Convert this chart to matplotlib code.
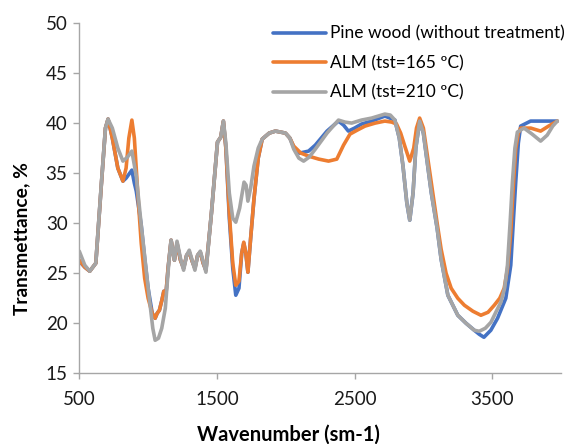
import matplotlib
matplotlib.use("Agg")
import matplotlib.pyplot as plt

# FTIR spectra (wavenumber, transmittance %)
pine_x = [500, 540, 576, 620, 661, 690, 709, 740, 780, 817, 840, 882, 900, 914, 950, 975,
          1000, 1030, 1051, 1066, 1082, 1100, 1114, 1130, 1145, 1167, 1191, 1210, 1235, 1258,
          1280, 1299, 1320, 1340, 1360, 1379, 1400, 1420, 1460, 1504, 1528, 1547, 1565, 1590,
          1615, 1637, 1660, 1680, 1695, 1710, 1725, 1745, 1769, 1800, 1829, 1880, 1925, 1998,
          2030, 2058, 2100, 2166, 2215, 2300, 2383, 2420, 2455, 2500, 2550, 2624, 2720, 2793,
          2825, 2852, 2880, 2901, 2925, 2945, 2973, 3000, 3057, 3100, 3129, 3178, 3250, 3310,
          3370, 3406, 3440, 3490, 3539, 3599, 3635, 3655, 3671, 3690, 3707, 3779, 3880, 3973]
pine_y = [26.2, 25.6, 25.2, 26.0, 34.0, 39.5, 40.4, 38.5, 35.5, 34.2, 34.5, 35.3, 34.0, 33.2, 29.8, 26.5,
          23.5, 21.0, 20.5, 21.0, 21.3, 22.3, 23.2, 23.0, 25.5, 28.3, 26.3, 28.0, 26.3, 25.5,
          26.8, 27.1, 26.2, 25.5, 26.8, 27.1, 26.0, 25.3, 31.0, 38.1, 38.6, 40.2, 37.5, 30.5,
          25.5, 22.8, 23.5, 27.0, 28.0, 27.0, 25.1, 28.5, 32.4, 36.5, 38.4, 39.0, 39.2, 39.0,
          38.5, 37.6, 37.0, 37.2, 37.8, 39.2, 40.2, 39.8, 39.2, 39.5, 39.9, 40.2, 40.7, 40.3,
          38.5, 35.7, 32.0, 30.3, 33.0, 37.5, 40.2, 39.0, 33.1, 29.5, 26.4, 22.8, 20.8, 20.0,
          19.3, 18.9, 18.6, 19.3, 20.5, 22.5, 25.8, 30.5, 34.1, 38.0, 39.7, 40.2, 40.2, 40.2]

alm165_x = [500, 540, 576, 620, 661, 690, 709, 740, 780, 817, 840, 860, 882, 900, 925, 950,
            975, 1000, 1030, 1051, 1066, 1082, 1100, 1114, 1130, 1145, 1167, 1191, 1210, 1235,
            1258, 1280, 1299, 1320, 1340, 1360, 1379, 1400, 1420, 1460, 1504, 1528, 1547, 1565,
            1590, 1615, 1637, 1660, 1680, 1695, 1710, 1725, 1745, 1769, 1800, 1829, 1880, 1925,
            1998, 2030, 2058, 2110, 2166, 2240, 2311, 2371, 2420, 2467, 2520, 2576, 2650, 2720,
            2770, 2805, 2835, 2865, 2901, 2930, 2950, 2973, 3000, 3057, 3100, 3129, 3165, 3202,
            3250, 3298, 3360, 3418, 3470, 3515, 3555, 3587, 3612, 3635, 3655, 3671, 3690, 3707,
            3780, 3852, 3910, 3973]
alm165_y = [26.3, 25.6, 25.2, 26.0, 34.0, 39.5, 40.4, 38.5, 35.5, 34.2, 35.5, 38.5, 40.3, 38.5, 33.0, 28.0,
            24.5, 22.5, 21.0, 20.5, 21.0, 21.3, 22.3, 23.2, 23.0, 25.5, 28.3, 26.3, 28.0, 26.3,
            25.5, 26.8, 27.1, 26.2, 25.5, 26.8, 27.1, 26.0, 25.3, 31.0, 38.1, 38.6, 40.2, 37.5,
            31.0, 26.0, 23.8, 24.2, 27.0, 28.1, 27.0, 25.1, 28.5, 32.4, 36.5, 38.4, 39.0, 39.2,
            39.0, 38.5, 37.7, 37.0, 36.7, 36.4, 36.2, 36.4, 37.8, 38.9, 39.3, 39.7, 40.0, 40.2,
            40.1, 39.9, 39.0, 37.7, 36.2, 37.5, 39.5, 40.5, 39.5, 34.1, 30.0, 27.4, 25.0, 23.5,
            22.5, 21.8, 21.2, 20.8, 21.1, 21.8, 22.5, 23.5, 25.5, 29.1, 34.0, 37.4, 39.0, 39.5,
            39.5, 39.2, 39.7, 40.2]

alm210_x = [500, 540, 576, 620, 661, 690, 709, 740, 780, 817, 850, 882, 914, 950, 998, 1034,
            1051, 1075, 1099, 1125, 1150, 1167, 1191, 1210, 1235, 1258, 1280, 1299, 1320, 1340,
            1360, 1379, 1400, 1420, 1460, 1504, 1528, 1547, 1565, 1590, 1615, 1637, 1665, 1697,
            1712, 1725, 1745, 1769, 1800, 1829, 1880, 1925, 1998, 2030, 2058, 2095, 2130, 2170,
            2215, 2300, 2383, 2430, 2479, 2550, 2624, 2720, 2760, 2793, 2825, 2852, 2880, 2901,
            2925, 2945, 2973, 3000, 3057, 3100, 3129, 3178, 3250, 3310, 3370, 3406, 3450, 3491,
            3530, 3563, 3590, 3611, 3630, 3647, 3665, 3683, 3731, 3790, 3852, 3900, 3940, 3973]
alm210_y = [27.2, 25.8, 25.2, 26.0, 34.1, 39.5, 40.4, 39.5, 37.5, 36.2, 36.6, 37.2, 34.7, 29.8, 23.8, 19.5,
            18.3, 18.5, 19.5, 21.5, 26.0, 28.3, 26.3, 28.2, 26.5, 25.3, 26.8, 27.3, 26.3, 25.3,
            26.8, 27.2, 26.2, 25.1, 31.0, 38.1, 38.6, 40.2, 38.0, 33.0, 30.5, 30.1, 31.5, 34.1,
            33.8, 32.2, 33.5, 35.7, 37.5, 38.4, 39.0, 39.2, 39.0, 38.5, 37.4, 36.5, 36.2, 36.6,
            37.4, 39.0, 40.3, 40.1, 40.0, 40.3, 40.5, 40.9, 40.8, 40.3, 38.5, 35.7, 32.0, 30.3,
            33.0, 37.5, 40.2, 39.0, 33.1, 29.5, 26.4, 22.8, 20.8, 20.0, 19.3, 19.2, 19.5, 20.1,
            21.2, 22.1, 23.5, 25.8, 30.0, 34.1, 37.5, 39.1, 39.5, 38.9, 38.2, 38.8, 39.7, 40.2]

labels = ["Pine wood (without treatment)", "ALM (tst=165 ºC)", "ALM (tst=210 ºC)"]
colors = ["#4472C4", "#ED7D31", "#A5A5A5"]

plt.rcParams['font.family'] = ['Lato', 'DejaVu Sans']

fig = plt.figure(figsize=(5.68, 4.44), dpi=100)
ax = fig.add_axes([79.3 / 568, 1 - 373.3 / 444, (561 - 79.3) / 568, (373.3 - 23) / 444])

series = [(pine_x, pine_y), (alm165_x, alm165_y), (alm210_x, alm210_y)]
for (xs, ys), lab, c in zip(series, labels, colors):
    ax.plot(xs, ys, color=c, lw=2.6, label=lab,
            solid_joinstyle='round', solid_capstyle='round')

ax.set_xlim(500, 4000)
ax.set_ylim(15, 50)
ax.set_xticks([500, 1500, 2500, 3500])
ax.set_yticks(range(15, 51, 5))

for side in ['top', 'right']:
    ax.spines[side].set_visible(False)
for side in ['left', 'bottom']:
    ax.spines[side].set_color('#a6a6a6')
    ax.spines[side].set_linewidth(1)
ax.tick_params(axis='both', colors='#a6a6a6', labelcolor='#1a1a1a',
               labelsize=13.5, length=4.5, width=1)
ax.tick_params(axis='x', pad=8)
ax.tick_params(axis='y', pad=4)

fig.text(288 / 568, 1 - 434.5 / 444, "Wavenumber (sm-1)", ha='center', va='center',
         fontsize=14.5, fontweight='bold')
fig.text(22 / 568, 1 - 238.5 / 444, "Transmettance, %", ha='center', va='center',
         rotation=90, fontsize=13.8, fontweight='bold')

ax.legend(loc='upper left', bbox_to_anchor=(273 / 568, 1 - 25.5 / 444),
          bbox_transform=fig.transFigure, frameon=False, fontsize=12.5,
          handlelength=3.05, handletextpad=0.23, labelspacing=0.77, borderaxespad=0, borderpad=0)

fig.savefig("out.png", dpi=100)
